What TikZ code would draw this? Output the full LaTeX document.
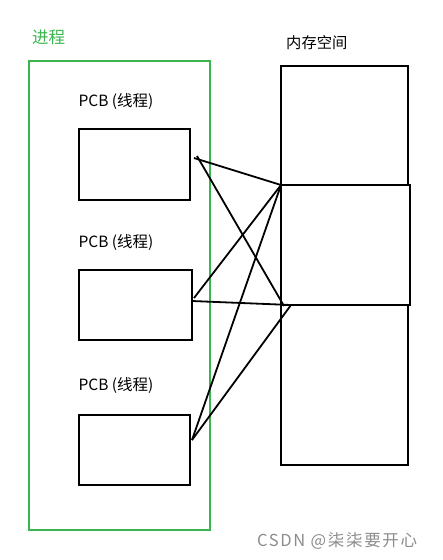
\documentclass[tikz,border=0pt]{standalone}
\usepackage{fontspec}
\setmainfont{Noto Sans CJK SC}
\newfontfamily\wmfont[LetterSpace=10]{Noto Sans CJK SC}
\begin{document}
\begin{tikzpicture}[x=1pt,y=-1pt,
  box/.style={draw=black,line width=1.8pt,inner sep=0pt,outer sep=0pt},
  lbl/.style={font=\fontsize{15.5}{18}\selectfont,inner sep=0pt,anchor=center},
  link/.style={draw=black,line width=1.8pt}]
\useasboundingbox (0,0) rectangle (443,560);
\definecolor{procgreen}{RGB}{60,180,80}
% process frame
\node[box,draw=procgreen,minimum width=181pt,minimum height=469pt] (proc) at (119.5,295.5) {};
\node[lbl,text=procgreen,anchor=west,font=\fontsize{16.5}{18}\selectfont] (proclbl) at (32,37) {进程};
% memory
\node[lbl,anchor=west,font=\fontsize{15.3}{18}\selectfont] (memlbl) at (286,43) {内存空间};
\node[box,minimum width=127pt,minimum height=119pt] (m1) at (344.5,125.5) {};
\node[box,minimum width=129pt,minimum height=120pt] (m2) at (345.5,245) {};
\node[box,minimum width=127pt,minimum height=160pt] (m3) at (344.5,385) {};
% PCBs
\node[lbl] (l1) at (116,101) {PCB (线程)};
\node[lbl] (l2) at (116,242) {PCB (线程)};
\node[lbl] (l3) at (116,385) {PCB (线程)};
\node[box,minimum width=111pt,minimum height=71pt] (p1) at (134.5,164.5) {};
\node[box,minimum width=113pt,minimum height=70pt] (p2) at (135.5,305) {};
\node[box,minimum width=111pt,minimum height=70pt] (p3) at (134.5,450) {};
% endpoints
\coordinate (a1) at (194,158);
\coordinate (a2) at (197,156);
\coordinate (b1) at (194,298);
\coordinate (b2) at (192,301);
\coordinate (c1) at (192,440);
\coordinate (mA) at (m2.north west);
\coordinate (mB) at (284,306);
\coordinate (mC) at (291,305);
\draw[link] (a1) -- (mA);
\draw[link] (a2) -- (mB);
\draw[link] (b1) -- (mA);
\draw[link] (b2) -- (mC);
\draw[link] (c1) -- (mA);
\draw[link] (c1) -- (mC);
% watermark
\node[lbl,text=black!45,font=\wmfont\fontsize{16.5}{18}\selectfont,anchor=west] (wm) at (257,541) {CSDN @柒柒要开心};
\end{tikzpicture}
\end{document}
